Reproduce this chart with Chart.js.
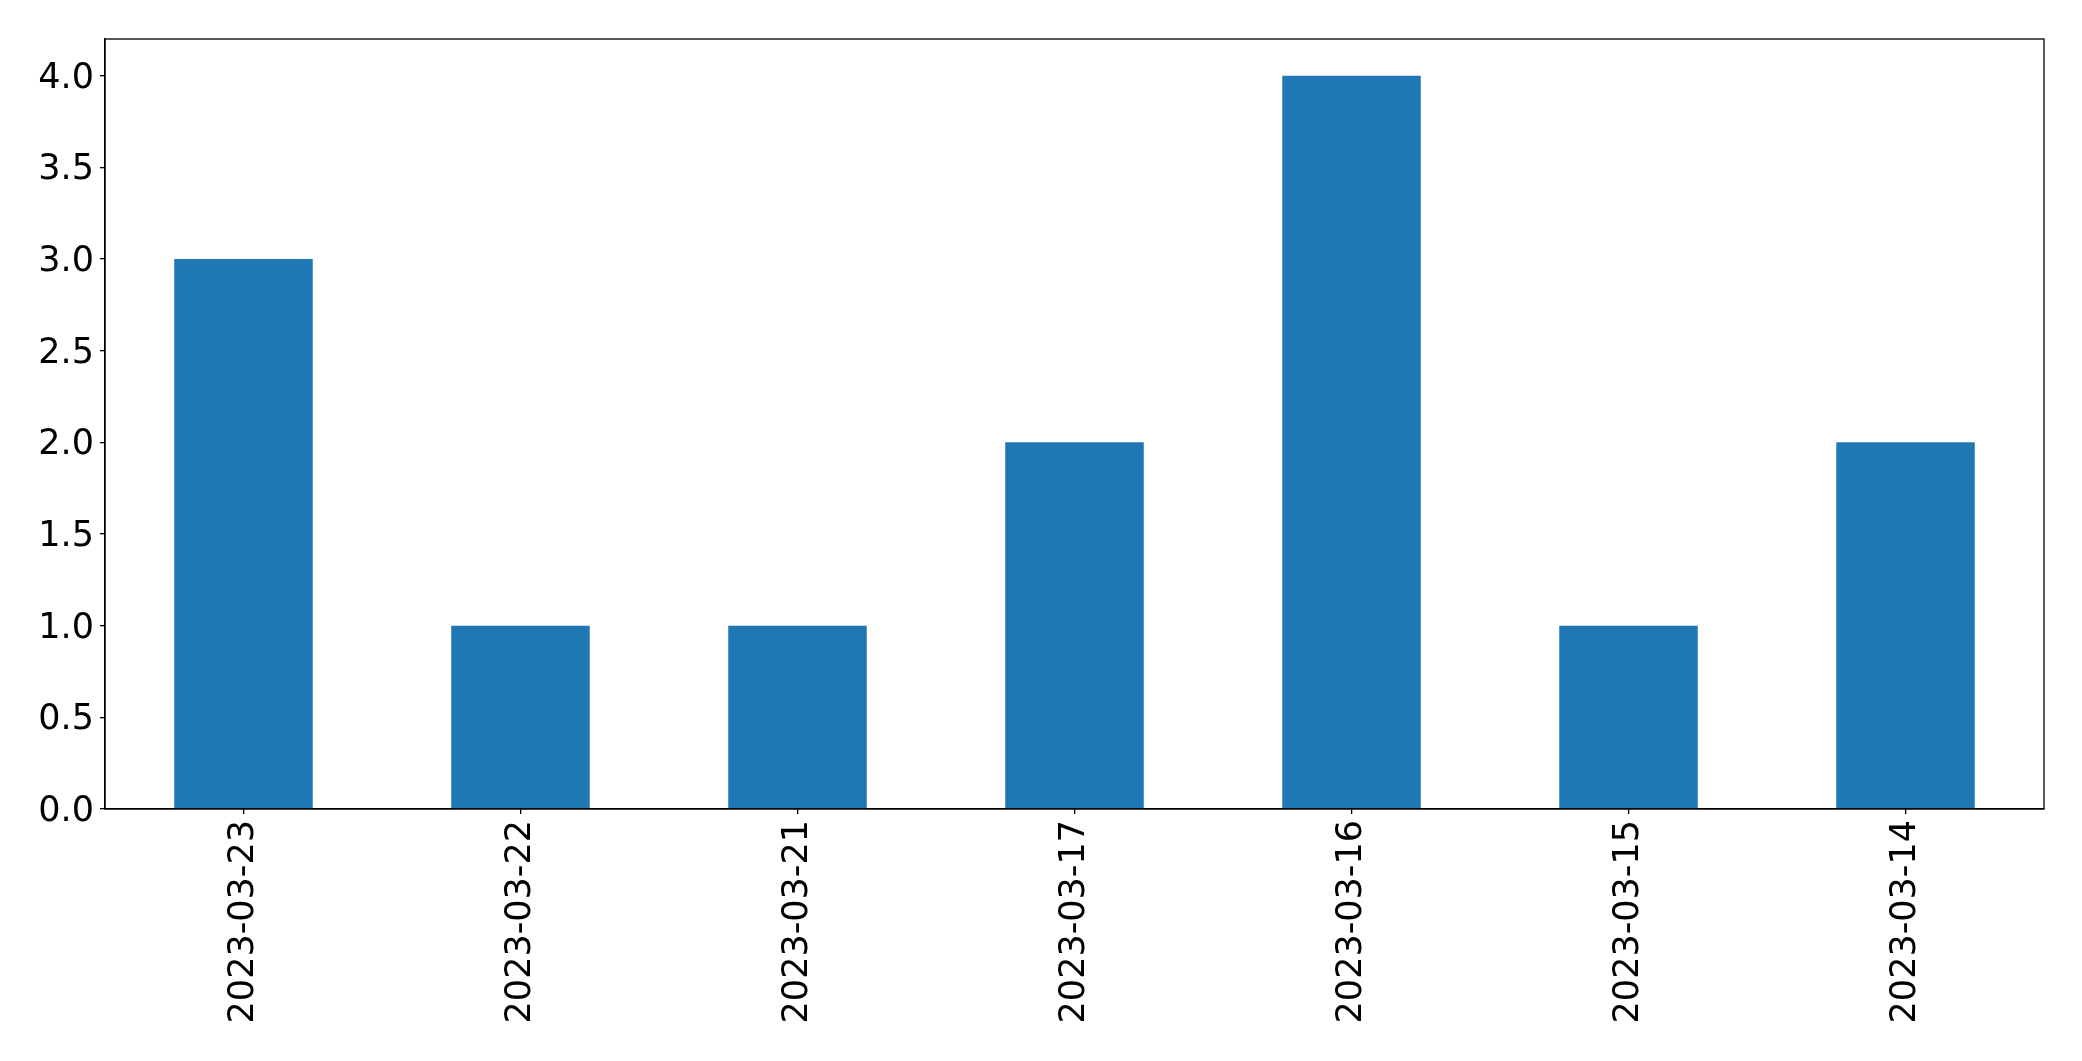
<!DOCTYPE html>
<html>
<head>
<meta charset="utf-8">
<script src="https://cdn.jsdelivr.net/npm/chart.js@4/dist/chart.umd.min.js"></script>
<style>
html,body{margin:0;padding:0;background:#fff;}
#wrap{width:2082px;height:1061px;position:relative;}
</style>
</head>
<body>
<div id="wrap"><canvas id="c" width="2082" height="1061"></canvas></div>
<script>
const categories = ["2023-03-23","2023-03-22","2023-03-21","2023-03-17","2023-03-16","2023-03-15","2023-03-14"];
const counts = [3, 1, 1, 2, 4, 1, 2];
const yTicks = [0, 0.5, 1.0, 1.5, 2.0, 2.5, 3.0, 3.5, 4.0];

const framePlugin = {
  id: 'frame',
  afterDatasetsDraw(chart) {
    const {ctx, chartArea: a} = chart;
    ctx.save();
    ctx.strokeStyle = '#000';
    ctx.lineWidth = 1.3;
    ctx.strokeRect(a.left, a.top, a.right - a.left, a.bottom - a.top);
    ctx.restore();
  }
};

Chart.defaults.font.family = "'DejaVu Sans', sans-serif";
Chart.defaults.color = '#000';

new Chart(document.getElementById('c'), {
  type: 'bar',
  data: {
    labels: categories,
    datasets: [{
      data: counts,
      backgroundColor: '#1f77b4',
      borderWidth: 0,
      categoryPercentage: 1.0,
      barPercentage: 0.5
    }]
  },
  options: {
    responsive: false,
    animation: false,
    devicePixelRatio: 1,
    layout: { padding: { left: 0, top: 39, right: 38, bottom: 0 } },
    plugins: { legend: { display: false }, tooltip: { enabled: false } },
    scales: {
      x: {
        offset: true,
        grid: { display: true, offset: false, drawOnChartArea: false, drawTicks: true, tickLength: 5, color: '#000', lineWidth: 1.3 },
        border: { display: true, color: '#000', width: 1.3 },
        ticks: { minRotation: 90, maxRotation: 90, autoSkip: false, padding: 6, font: { size: 35 }, color: '#000' },
        afterFit(s) { s.height = 252; }
      },
      y: {
        min: 0,
        max: 4.2,
        grid: { display: true, drawOnChartArea: false, drawTicks: true, tickLength: 5, color: '#000', lineWidth: 1.3 },
        border: { display: true, color: '#000', width: 1.3 },
        afterBuildTicks(s) { s.ticks = yTicks.map(v => ({ value: v })); },
        ticks: {
          includeBounds: false,
          padding: 6,
          labelOffset: 3,
          font: { size: 35 },
          color: '#000',
          callback: v => Number(v).toFixed(1)
        },
        afterFit(s) { s.width = 105; }
      }
    }
  },
  plugins: [framePlugin]
});
</script>
</body>
</html>
